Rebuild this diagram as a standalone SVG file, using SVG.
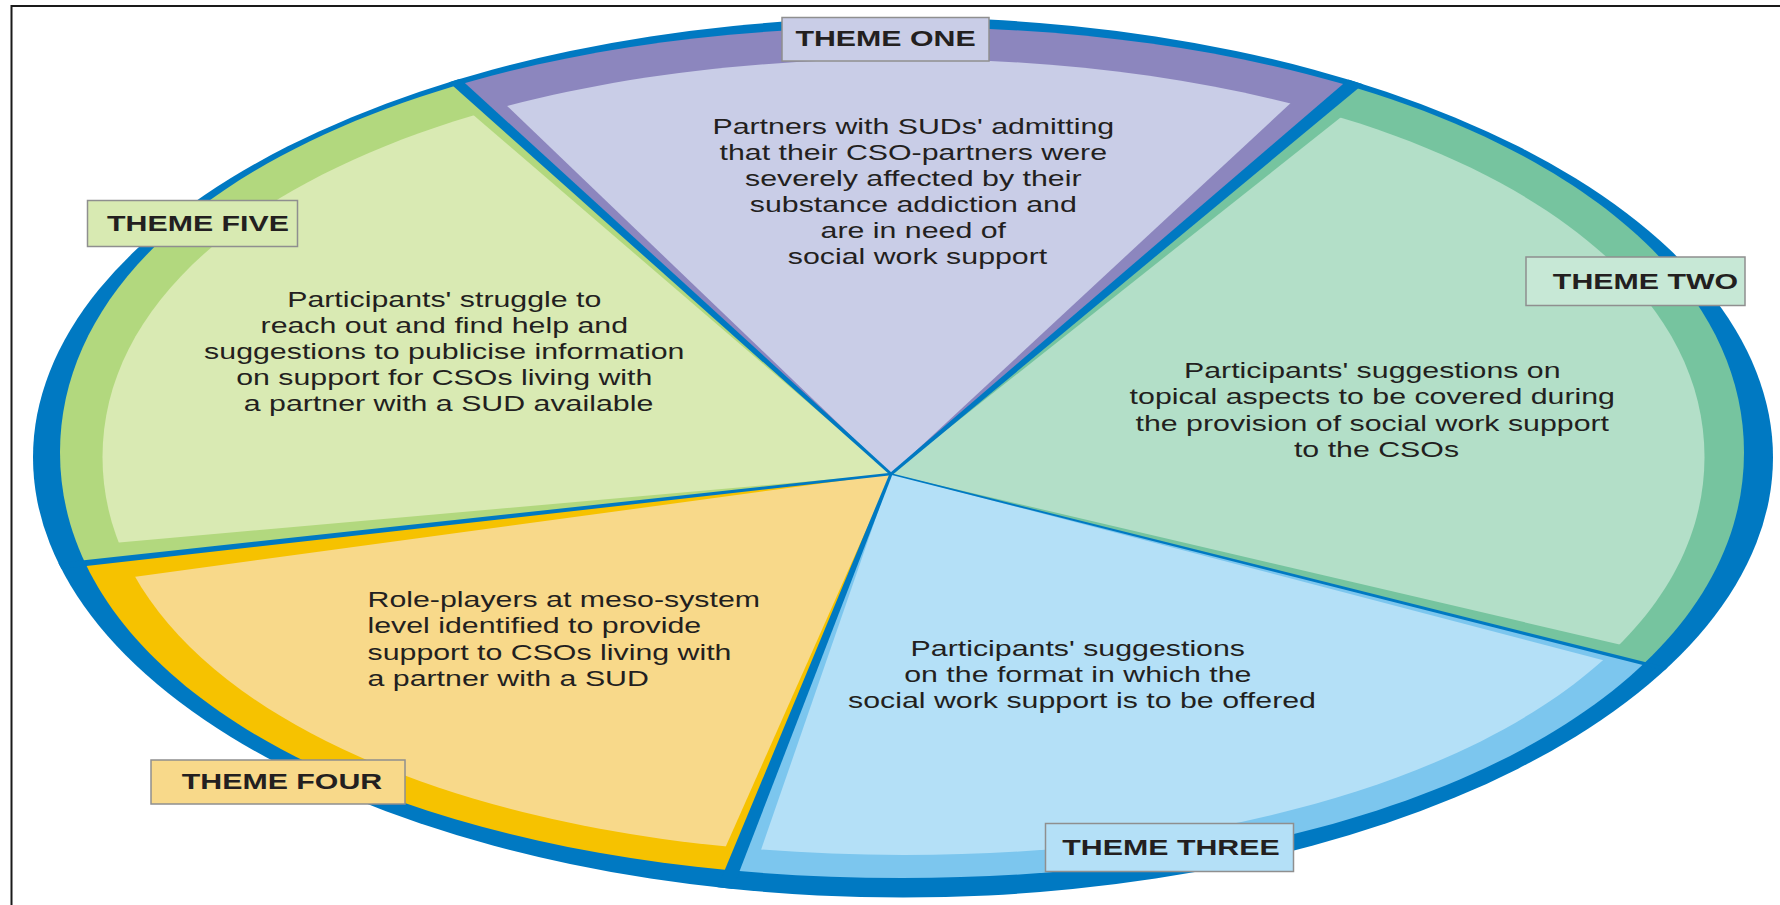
<svg xmlns="http://www.w3.org/2000/svg" width="1780" height="905" viewBox="0 0 1780 905">
<defs>
<style>
.body{font-family:"Liberation Sans",Arial,Helvetica,sans-serif;font-size:22.3px;fill:#231f20;}
.lbl{font-family:"Liberation Sans",Arial,Helvetica,sans-serif;font-size:22.3px;font-weight:bold;fill:#231f20;}
.box{stroke:#8f8f8f;stroke-width:1.5;}
.blue{fill:#0079c2;}
</style>
<clipPath id="cE1"><ellipse cx="903" cy="457.5" rx="870" ry="440"/></clipPath>
<clipPath id="cE2"><path d="M1744,452.5 C1744,699.3 1390.4,878 902,878 C413.6,878 60,699.3 60,452.5 C60,205.7 413.6,27 902,27 C1390.4,27 1744,205.7 1744,452.5 Z"/></clipPath>
<clipPath id="cE3"><path d="M1704.5,457 C1704.5,687.8 1368.1,855 903.5,855 C438.9,855 102.5,687.8 102.5,457 C102.5,226.2 438.9,59 903.5,59 C1368.1,59 1704.5,226.2 1704.5,457 Z"/></clipPath>
</defs>
<rect width="1780" height="905" fill="#ffffff"/>
<path d="M11.5,905 V6 H1780" fill="none" stroke="#1a1a1a" stroke-width="2"/>
<ellipse class="blue" cx="903" cy="457.5" rx="870" ry="440"/>

<g id="theme-one">
<polygon clip-path="url(#cE2)" fill="#8c86be" points="891,474 335.9,-26.5 1482.5,-25.2"/>
<polygon clip-path="url(#cE3)" fill="#c9cde7" points="891,474 387.9,-8.3 1414.9,-12.2"/>
<rect class="box" x="782" y="17.5" width="207" height="43.5" fill="#c9cde7"/>
<text class="lbl" transform="translate(885.5 0) scale(1.36 1)" x="0" y="46.5" text-anchor="middle">THEME ONE</text>
<text class="body" transform="translate(917.5 0) scale(1.36 1)" text-anchor="middle">
<tspan x="0" y="134.5">Partners with SUDs' admitting</tspan>
<tspan x="0" y="160.5">that their CSO-partners were</tspan>
<tspan x="0" y="186.5">severely affected by their</tspan>
<tspan x="0" y="212">substance addiction and</tspan>
<tspan x="0" y="238">are in need of</tspan>
<tspan x="0" y="264">social work support</tspan>
</text>
</g>

<g id="theme-two">
<polygon clip-path="url(#cE2)" fill="#76c49f" points="891,474 1482.5,-25.2 1900,-25 1872.5,721"/>
<polygon clip-path="url(#cE3)" fill="#b3dfc8" points="891,474 1481.2,6 1900,6 1846.5,697.6"/>
<rect class="box" x="1526" y="257" width="219" height="48.5" fill="#c7e8d6"/>
<text class="lbl" transform="translate(1645.5 0) scale(1.36 1)" x="0" y="289.5" text-anchor="middle">THEME TWO</text>
<text class="body" transform="translate(1376.5 0) scale(1.36 1)" text-anchor="middle">
<tspan x="0" y="378">Participants' suggestions on</tspan>
<tspan x="0" y="404.5">topical aspects to be covered during</tspan>
<tspan x="0" y="431">the provision of social work support</tspan>
<tspan x="0" y="457">to the CSOs</tspan>
</text>
</g>

<g id="theme-three">
<polygon clip-path="url(#cE2)" fill="#7cc6ee" points="891,474 1872.5,721 1900,1000 686.9,983.6"/>
<polygon clip-path="url(#cE3)" fill="#b4e0f7" points="891,474 1825.7,718.4 1900,1000 722,962.8"/>
<rect class="box" x="1045.5" y="823.5" width="248" height="48" fill="#b4e0f7"/>
<text class="lbl" transform="translate(1171 0) scale(1.36 1)" x="0" y="855" text-anchor="middle">THEME THREE</text>
<text class="body" transform="translate(1082 0) scale(1.36 1)" text-anchor="middle">
<tspan x="0" y="656">Participants' suggestions</tspan>
<tspan x="0" y="682">on the format in which the</tspan>
<tspan x="0" y="708">social work support is to be offered</tspan>
</text>
</g>

<g id="theme-four">
<polygon clip-path="url(#cE2)" fill="#f6c200" points="891,474 686.9,983.6 -170,990 -167.2,591"/>
<polygon clip-path="url(#cE3)" fill="#f8d98a" points="891,474 676.5,957.6 -110,960 -103.5,609.2"/>
<rect class="box" x="151" y="760" width="254" height="44" fill="#f8d98a"/>
<text class="lbl" transform="translate(282 0) scale(1.36 1)" x="0" y="789" text-anchor="middle">THEME FOUR</text>
<text class="body" transform="translate(367.5 0) scale(1.36 1)" text-anchor="start">
<tspan x="0" y="607.5">Role-players at meso-system</tspan>
<tspan x="0" y="633.5">level identified to provide</tspan>
<tspan x="0" y="660">support to CSOs living with</tspan>
<tspan x="0" y="686">a partner with a SUD</tspan>
</text>
</g>

<g id="theme-five">
<polygon clip-path="url(#cE2)" fill="#b2d87e" points="891,474 -167.2,591 -170,-30 335.9,-26.5"/>
<polygon clip-path="url(#cE3)" fill="#d9eab3" points="891,474 -120.4,563.7 -120,4.7 345,4.7"/>
<rect class="box" x="87.5" y="200.5" width="210" height="46" fill="#d8eab2"/>
<text class="lbl" transform="translate(198 0) scale(1.36 1)" x="0" y="231" text-anchor="middle">THEME FIVE</text>
<text class="body" transform="translate(448.5 0) scale(1.36 1)" text-anchor="middle">
<tspan x="0" y="307">Participants' struggle to</tspan>
<tspan x="0" y="333">reach out and find help and</tspan>
<tspan x="0" y="359">suggestions to publicise information</tspan>
<tspan x="0" y="385.5">on support for CSOs living with</tspan>
<tspan x="0" y="411.5">a partner with a SUD available</tspan>
</text>
</g>

<g id="connectors" clip-path="url(#cE1)">
<polygon class="blue" points="892,472.9 424.9,46.5 417.7,54.5 890,475.1"/>
<polygon class="blue" points="890,472.9 1387,46.3 1396,57 892,475.2"/>
<polygon class="blue" points="891.2,473.3 1721.95,681.2 1721.05,684.8 890.8,474.7"/>
<polygon class="blue" points="892.4,474.6 725.3,908 711.3,902.4 889.6,473.4"/>
<polygon class="blue" points="890.9,472.8 -4.75,569.8 -4.05,576.2 891.1,475.2"/>
</g>
</svg>
